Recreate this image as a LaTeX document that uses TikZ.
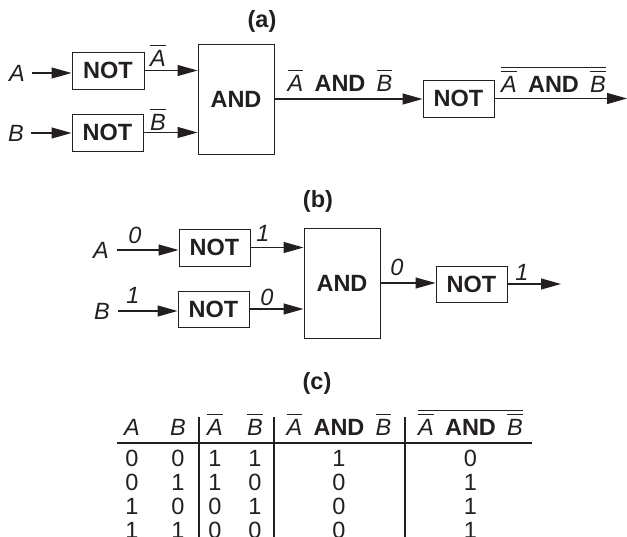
\documentclass[tikz,border=0pt]{standalone}
\usepackage{fontspec}
\setmainfont{Liberation Sans}
\usetikzlibrary{arrows.meta,calc}
\definecolor{ink}{HTML}{231F20}
\newcommand\ovl[1]{\leavevmode\vbox{\hrule height 1.1pt\kern 3.5pt\hbox{#1}}}
\newcommand\ovlb[1]{\leavevmode\vbox{\hrule height 1.1pt\kern 3pt\hbox{#1}}}
\newcommand\nab{\ovl{\textit{A}}\hspace{0.48em}\textbf{AND}\hspace{0.48em}\ovl{\textit{B}}}
\begin{document}
\begin{tikzpicture}[x=1pt,y=-1pt,
  font=\fontsize{23.5}{28}\selectfont, text=ink,
  gate/.style={draw=ink, line width=1pt, minimum width=72pt, minimum height=37pt,
    inner sep=0pt, font=\fontsize{23.5}{28}\selectfont\bfseries},
  bigand/.style={gate, minimum width=76pt, minimum height=110pt},
  lbl/.style={inner sep=0pt},
  baselbl/.style={inner sep=0pt, anchor=base},
  ttl/.style={inner sep=0pt, font=\fontsize{23.5}{28}\selectfont\bfseries},
  wire/.style={draw=ink, line width=1.2pt, -{Triangle[length=20pt,width=11pt]}},
  rule/.style={draw=ink, line width=1.2pt}]
\useasboundingbox (0,0) rectangle (627,536);
\clip (0,0) rectangle (627,536);
% ---------- (a)
\node[ttl] (ta) at (262,21) {(a)};
\node[gate] (n1) at (108,70.5) {NOT};
\node[gate, minimum width=71pt] (n2) at (107.5,132.5) {NOT};
\node[bigand] (a1) at (236,99) {AND};
\node[gate, minimum width=71pt] (n3) at (458.5,98.5) {NOT};
\node[lbl] (iA) at (17,73) {\itshape A};
\node[lbl] (iB) at (16,133) {\itshape B};
\coordinate (oA) at (627,97.5);
\draw[wire] ($(iA.east)+(7,0)$) -- (iA.east -| n1.west);
\draw[wire] ($(iB.east)+(7,0)$) -- (iB.east -| n2.west);
\draw[wire] (n1.east) -- (n1.east -| a1.west);
\draw[wire] (n2.east) -- (n2.east -| a1.west);
\draw[wire] (a1.east) -- (a1.east -| n3.west);
\draw[wire] (n3.east) -- (n3.east -| oA);
\node[baselbl] (lA) at (158,66) {\ovl{\textit{A}}};
\node[baselbl] (lB) at (158,130) {\ovl{\textit{B}}};
\node[baselbl] (lAB) at (340,91) {\nab};
\node[baselbl] (lNAB) at (553.5,92) {\ovlb{\nab}};
% ---------- (b)
\node[ttl] (tb) at (318,201) {(b)};
\node[gate, minimum width=71pt] (m1) at (214.5,247.5) {NOT};
\node[gate, minimum width=71pt, minimum height=36pt] (m2) at (213.5,309) {NOT};
\node[bigand] (a2) at (342,283) {AND};
\node[gate, minimum width=71pt, minimum height=36pt] (m3) at (471.5,284) {NOT};
\node[lbl] (jA) at (101,250) {\itshape A};
\node[lbl] (jB) at (102,311) {\itshape B};
\coordinate (oB) at (561,284);
\draw[wire] ($(jA.east)+(8,0)$) -- (jA.east -| m1.west);
\draw[wire] ($(jB.east)+(8,0)$) -- (jB.east -| m2.west);
\draw[wire] (m1.east) -- (m1.east -| a2.west);
\draw[wire] (m2.east) -- (m2.east -| a2.west);
\draw[wire] (a2.east) -- (a2.east -| m3.west);
\draw[wire] (m3.east) -- (m3.east -| oB);
\node[lbl] (v1) at (135,235) {\itshape 0};
\node[lbl] (v2) at (263,233) {\itshape 1};
\node[lbl] (v3) at (133,295) {\itshape 1};
\node[lbl] (v4) at (267,297) {\itshape 0};
\node[lbl] (v5) at (397,267) {\itshape 0};
\node[lbl] (v6) at (522,272) {\itshape 1};
% ---------- (c)
\node[ttl] (tc) at (317,383) {(c)};
\node[baselbl] (h1) at (132,435) {\itshape A};
\node[baselbl] (h2) at (178,435) {\itshape B};
\node[baselbl] (h3) at (215,435) {\ovl{\textit{A}}};
\node[baselbl] (h4) at (255,435) {\ovl{\textit{B}}};
\node[baselbl] (h5) at (339,435) {\nab};
\node[baselbl] (h6) at (470.5,435) {\ovlb{\nab}};
\draw[rule] (117,443) -- (532,443);
\draw[rule] (199,417) -- (199,540);
\draw[rule] (274,417) -- (274,540);
\draw[rule] (405,417) -- (405,540);
\foreach \r/\y/\a/\b/\na/\nb/\p/\q in {1/458/0/0/1/1/1/0, 2/482/0/1/1/0/0/1, 3/506/1/0/0/1/0/1, 4/530/1/1/0/0/0/1}{
  \node[lbl] (c\r a) at (132,\y) {\a};
  \node[lbl] (c\r b) at (178,\y) {\b};
  \node[lbl] (c\r c) at (215,\y) {\na};
  \node[lbl] (c\r d) at (255,\y) {\nb};
  \node[lbl] (c\r e) at (339,\y) {\p};
  \node[lbl] (c\r f) at (470.5,\y) {\q};
}
\end{tikzpicture}
\end{document}
